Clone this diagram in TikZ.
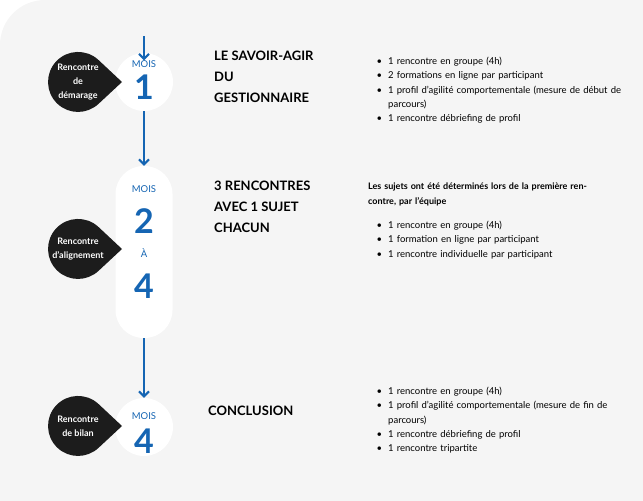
\documentclass[tikz,border=0pt]{standalone}
\usepackage{fontspec}
\setmainfont{Lato}
\usepackage{enumitem}
\usetikzlibrary{positioning}
\usetikzlibrary{calc}
\usetikzlibrary{arrows.meta}
\definecolor{moisblue}{RGB}{21,101,179}
\definecolor{fondgris}{RGB}{245,245,245}
\definecolor{dropblack}{RGB}{28,28,28}
\newcommand{\droppath}[1]{%
  \fill[dropblack] ($(#1)+(20.5,-22)$) arc[start angle=-47,end angle=-313,radius=30] -- ($(#1)+(44,0)$) -- cycle;}
\newcommand{\puces}[1]{\begin{itemize}[leftmargin=13pt,itemsep=0pt,topsep=0pt,parsep=0pt,labelsep=6pt]#1\end{itemize}}

\begin{document}
\begin{tikzpicture}[x=1pt,y=-1pt]
   \tikzset{
     titre/.style={anchor=north west,font=\bfseries\fontsize{13}{21}\selectfont,align=left,inner sep=0pt},
     liste/.style={anchor=north west,font=\fontsize{9.5}{14.3}\selectfont,text width=270pt,inner sep=0pt},
     droplbl/.style={text=white,font=\bfseries\fontsize{9}{14}\selectfont,align=center,inner sep=0pt},
     mois/.style={text=moisblue,font=\fontsize{9.5}{11}\selectfont,inner sep=0pt},
     chiffre/.style={text=moisblue,font=\bfseries\fontsize{34}{34}\selectfont,inner sep=0pt},
     fleche/.style={moisblue,line width=2pt,-{Straight Barb[length=5pt,width=10pt]}}
   }
   \useasboundingbox (0,0) rectangle (643,501);
   % fond
   \fill[fondgris] (0,45) to[out=90,in=180] (45,0) -- (643,0) -- (643,501) -- (0,501) -- cycle;
   % bulles mois
   \node[circle,fill=white,minimum size=58pt,inner sep=0pt] (m1) at (144,82) {};
   \node[rectangle,rounded corners=28pt,fill=white,minimum width=57pt,minimum height=172pt] (m2) at (144,252) {};
   \node[circle,fill=white,minimum size=58pt,inner sep=0pt] (m3) at (144,427) {};
   \node[mois] (m1a) at (144,64) {MOIS};
   \node[chiffre] at (144,87) {1};
   \node[mois] at (144,189) {MOIS};
   \node[chiffre] at (144,221) {2};
   \node[mois] at (144,253) {À};
   \node[chiffre] at (144,286) {4};
   \node[mois] at (144,416) {MOIS};
   \node[chiffre] at (144,441) {4};
   \coordinate (haut) at (144,36);
   \draw[fleche] (haut) -- (m1a.north);
   \draw[fleche] (m1) -- (m2);
   \draw[fleche] (m2) -- (m3);
   % rencontres
   \coordinate (d1) at (78,82);
   \coordinate (d2) at (78,249);
   \coordinate (d3) at (78,426);
   \droppath{d1} \droppath{d2} \droppath{d3}
   \node[droplbl] at (d1) {Rencontre\\de\\démarage};
   \node[droplbl] at (d2) {Rencontre\\d'alignement};
   \node[droplbl] at (d3) {Rencontre\\de bilan};
   % titres
   \node[titre] (t1) at (214,51) {LE SAVOIR-AGIR\\DU\\GESTIONNAIRE};
   \node[titre] (t2) at (214,181) {3 RENCONTRES\\AVEC 1 SUJET\\CHACUN};
   \node[titre] (t3) at (208,406) {CONCLUSION};
   % listes
   \node[liste] (l1) at (375,50) {\puces{
     \item 1 rencontre en groupe (4h)
     \item 2 formations en ligne par participant
     \item 1 profil d'agilité comportementale (mesure de début de parcours)
     \item 1 rencontre débriefing de profil}};
   \node[liste,font=\bfseries\fontsize{9}{14.5}\selectfont,text width=230pt] (n2) at (368,183) {Les sujets ont été déterminés lors de la première rencontre, par l'équipe};
   \node[liste] (l2) at (375,214) {\puces{
     \item 1 rencontre en groupe (4h)
     \item 1 formation en ligne par participant
     \item 1 rencontre individuelle par participant}};
   \node[liste] (l3) at (375,380) {\puces{
     \item 1 rencontre en groupe (4h)
     \item 1 profil d'agilité comportementale (mesure de fin de parcours)
     \item 1 rencontre débriefing de profil
     \item 1 rencontre tripartite}};
\end{tikzpicture}
\end{document}
